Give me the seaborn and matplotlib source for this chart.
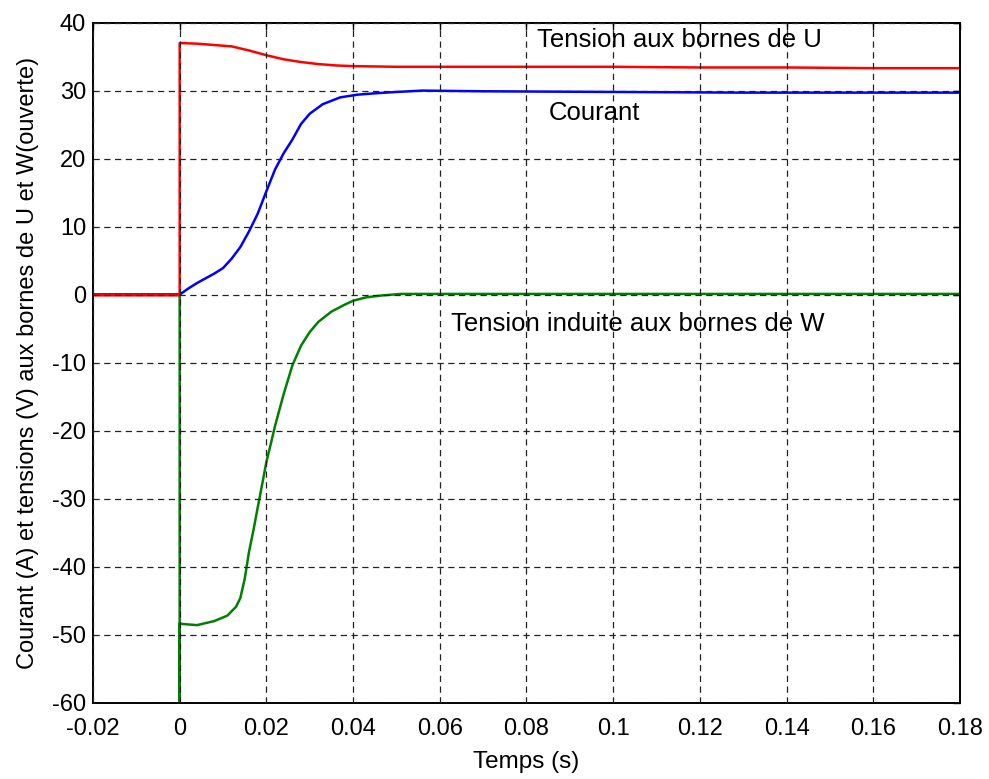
import matplotlib
matplotlib.use("Agg")
import matplotlib.pyplot as plt
import seaborn as sns

# Tension aux bornes de U (V)
t_u = [-0.02, -0.01, 0.0, 0.0, 0.004, 0.008, 0.012, 0.016, 0.02, 0.024, 0.028,
       0.032, 0.036, 0.04, 0.05, 0.06, 0.08, 0.1, 0.12, 0.14, 0.16, 0.18]
v_u = [-0.1, -0.1, -0.1, 37.0, 36.9, 36.7, 36.5, 35.9, 35.2, 34.6, 34.2,
       33.9, 33.7, 33.6, 33.5, 33.5, 33.5, 33.5, 33.4, 33.4, 33.3, 33.3]

# Courant (A)
t_i = [-0.02, 0.0, 0.002, 0.004, 0.006, 0.008, 0.01, 0.012, 0.014, 0.016, 0.018,
       0.02, 0.022, 0.024, 0.026, 0.028, 0.03, 0.033, 0.037, 0.041, 0.045, 0.05,
       0.056, 0.07, 0.1, 0.13, 0.16, 0.18]
v_i = [0.0, 0.0, 0.9, 1.7, 2.4, 3.1, 3.9, 5.3, 7.0, 9.3, 11.9,
       15.2, 18.4, 20.8, 22.8, 25.1, 26.6, 28.0, 29.0, 29.4, 29.6, 29.8,
       30.0, 29.9, 29.8, 29.7, 29.7, 29.7]

# Tension induite aux bornes de W (V)
t_w = [-0.02, 0.0, 0.0, 0.0, 0.004, 0.008, 0.011, 0.013, 0.014, 0.015, 0.016,
       0.017, 0.018, 0.019, 0.02, 0.021, 0.022, 0.024, 0.026, 0.028, 0.03, 0.032,
       0.035, 0.038, 0.04, 0.043, 0.047, 0.051, 0.06, 0.08, 0.1, 0.12, 0.14,
       0.16, 0.18]
v_w = [0.0, 0.0, -60.0, -48.4, -48.6, -48.0, -47.2, -45.9, -44.6, -41.8, -37.8,
       -34.7, -31.3, -28.0, -24.6, -22.0, -19.3, -14.6, -10.4, -7.5, -5.5, -4.0,
       -2.5, -1.5, -0.9, -0.4, -0.1, 0.1, 0.1, 0.1, 0.1, 0.1, 0.1,
       0.1, 0.1]

x_ticks = [-0.02, 0, 0.02, 0.04, 0.06, 0.08, 0.1, 0.12, 0.14, 0.16, 0.18]
x_ticklabels = ["-0.02", "0", "0.02", "0.04", "0.06", "0.08", "0.1", "0.12",
                "0.14", "0.16", "0.18"]
y_ticks = [-60, -50, -40, -30, -20, -10, 0, 10, 20, 30, 40]

sns.set_theme(style="white")
plt.rcParams["font.family"] = ["Liberation Sans", "DejaVu Sans"]
plt.rcParams["axes.unicode_minus"] = False
plt.rcParams["text.color"] = "black"
plt.rcParams["axes.labelcolor"] = "black"

fig = plt.figure(figsize=(9.89, 7.79), dpi=100)
ax = fig.add_axes([0.094, 0.098, 0.8767, 0.873])

lw = 1.8
sns.lineplot(x=t_w, y=v_w, estimator=None, sort=False, color="#008000",
             linewidth=lw, ax=ax)
sns.lineplot(x=t_i, y=v_i, estimator=None, sort=False, color="#0000ff",
             linewidth=lw, ax=ax)
sns.lineplot(x=t_u, y=v_u, estimator=None, sort=False, color="#ff0000",
             linewidth=lw, ax=ax)

ax.set_xlim(-0.02, 0.18)
ax.set_ylim(-60, 40)
ax.set_xticks(x_ticks)
ax.set_xticklabels(x_ticklabels)
ax.set_yticks(y_ticks)

ax.grid(True, color="#222222", linestyle=(0, (5, 3.6)), linewidth=0.9)
ax.set_axisbelow(False)
for s in ax.spines.values():
    s.set_color("black")
    s.set_linewidth(1.4)

ax.tick_params(direction="in", top=True, right=True, length=5, width=1,
               labelsize=17, colors="black")
ax.tick_params(axis="x", pad=11)
ax.tick_params(axis="y", pad=5)

ax.set_xlabel("Temps (s)", fontsize=17.5, labelpad=8)
ax.set_ylabel("Courant (A) et tensions (V) aux bornes de U et W(ouverte)",
              fontsize=17, labelpad=9)

ax.text(0.0824, 37.4, "Tension aux bornes de U", fontsize=18.5, va="center",
        ha="left")
ax.text(0.0852, 26.7, "Courant", fontsize=18.5, va="center", ha="left")
ax.text(0.0625, -4.25, "Tension induite aux bornes de W", fontsize=18.5,
        va="center", ha="left")

fig.savefig("out.png", dpi=100)
